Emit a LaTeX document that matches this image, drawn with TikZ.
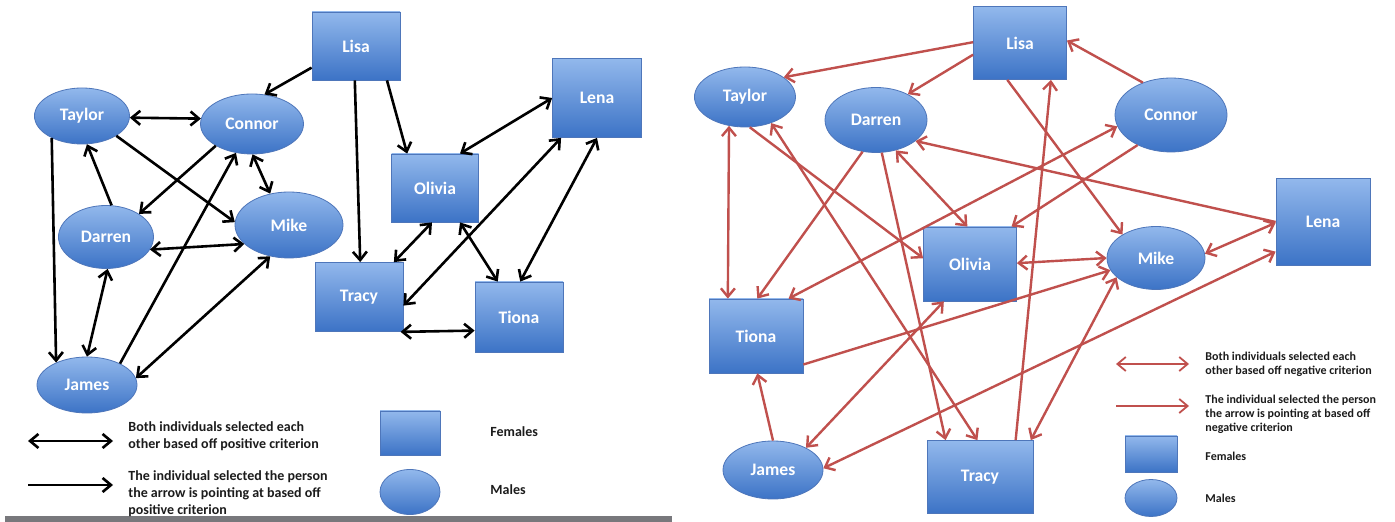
\documentclass[tikz,border=0pt]{standalone}
\usepackage{fontspec}
\setmainfont{Carlito}
\usetikzlibrary{arrows.meta,shapes.geometric}
\definecolor{nodetop}{RGB}{146,184,236}
\definecolor{nodebot}{RGB}{60,115,198}
\definecolor{nodeline}{RGB}{78,118,186}
\definecolor{redline}{RGB}{192,80,77}
\definecolor{legtext}{RGB}{28,28,28}
\definecolor{barcol}{RGB}{120,120,124}
\tikzset{
  sz/.style n args={2}{minimum width=#1*0.5pt, minimum height=#2*0.5pt},
  fem/.style={rectangle, draw=nodeline, line width=0.4pt, top color=nodetop, bottom color=nodebot,
    text=white, font=\bfseries\fontsize{8.8}{10}\selectfont, inner sep=0pt},
  mal/.style={fem, ellipse},
  tipb/.tip={Straight Barb[length=4.2pt,width=7pt]},
  blk/.style={draw=black, line width=1.3pt, -tipb},
  blkd/.style={draw=black, line width=1.3pt, tipb-tipb},
  rd/.style={draw=redline, line width=1.2pt, -tipb},
  rdd/.style={draw=redline, line width=1.2pt, tipb-tipb},
  legl/.style={anchor=west, align=left, text=legtext, inner sep=0pt,
    font=\bfseries\fontsize{7}{8.6}\selectfont},
  legr/.style={anchor=west, align=left, text=legtext, inner sep=0pt,
    font=\bfseries\fontsize{6}{6.9}\selectfont},
}
\begin{document}
\begin{tikzpicture}[x=0.5pt,y=-0.5pt]
\useasboundingbox (0,0) rectangle (1395,522);
\fill[white] (0,0) rectangle (1395,522);
\fill[barcol] (5,516) rectangle (672,522);

% ---------------- left diagram ----------------
\node[fem, sz={88}{68}] (LLisa)   at (356,46)  {Lisa};
\node[mal, sz={95}{56}] (LTaylor) at (82,116)  {Taylor};
\node[mal, sz={103}{60}](LConnor) at (252,124) {Connor};
\node[mal, sz={108}{66}](LMike)   at (289,225) {Mike};
\node[mal, sz={95}{63}] (LDarren) at (106,237) {Darren};
\node[mal, sz={100}{56}](LJames)  at (87,385)  {James};
\node[fem, sz={87}{68}] (LOlivia) at (435,188) {Olivia};
\node[fem, sz={89}{79}] (LLena)   at (597,98)  {Lena};
\node[fem, sz={88}{69}] (LTracy)  at (359,297) {Tracy};
\node[fem, sz={88}{70}] (LTiona)  at (519,317) {Tiona};

\draw[blk]  (LLisa.206.6)   -- (LConnor.67.4);
\draw[blkd] (LTaylor.-2)    -- (LConnor.174);
\draw[blk]  (LTaylor.330)   -- (LMike.177);
\draw[blk]  (LConnor.211.6) -- (LDarren.35.3);
\draw[blk]  (LDarren.80)    -- (LTaylor.280.6);
\draw[blkd] (LConnor.271.7) -- (LMike.121);
\draw[blkd] (LDarren.344.6) -- (LMike.203);
\draw[blk]  (LJames.33.3)   -- (LConnor.241.4);
\draw[blk]  (LTaylor.216.9) -- (LJames.144.3);
\draw[blkd] (LDarren.273)   -- (LJames.90);
\draw[blkd] (LJames.8)      -- (LMike.239);
\draw[blk]  (LLisa.312.7)   -- (LOlivia.129.8);
\draw[blk]  (LLisa.268.6)   -- (LTracy.88.5);
\draw[blkd] (LOlivia.54.5)  -- (LLena.180);
\draw[blkd] (LTracy.349.7)  -- (LLena.228.1);
\draw[blkd] (LTiona.88.4)   -- (LLena.270);
\draw[blkd] (LOlivia.265)   -- (LTracy.45.8);
\draw[blkd] (LOlivia.306.3) -- (LTiona.121);
\draw[blkd] (LTracy.320.2)  -- (LTiona.197);

% left legend
\coordinate (la1) at (28,441);  \coordinate (la2) at (113,441);
\coordinate (lb1) at (28,485);  \coordinate (lb2) at (113,485);
\draw[blkd] (la1) -- (la2);
\draw[blk]  (lb1) -- (lb2);
\node[legl] (lt1) at (128,436.5) {Both individuals selected each\\other based off positive criterion};
\node[legl] (lt2) at (128,493.5) {The individual selected the person\\the arrow is pointing at based off\\positive criterion};
\node[fem, sz={60}{44}] (lfem) at (410,433) {};
\node[mal, sz={60}{45}] (lmal) at (410,492) {};
\node[legl] (lt3) at (490,432) {Females};
\node[legl] (lt4) at (490,490) {Males};

% ---------------- right diagram ----------------
\node[fem, sz={93}{73}] (RLisa)   at (1020,43)  {Lisa};
\node[mal, sz={101}{60}](RTaylor) at (745,97)   {Taylor};
\node[mal, sz={102}{65}](RDarren) at (876,120)  {Darren};
\node[mal, sz={112}{74}](RConnor) at (1171,115) {Connor};
\node[fem, sz={94}{87}] (RLena)   at (1323,222) {Lena};
\node[mal, sz={98}{63}] (RMike)   at (1156,258) {Mike};
\node[fem, sz={93}{74}] (ROlivia) at (970,264)  {Olivia};
\node[fem, sz={94}{74}] (RTiona)  at (756,336)  {Tiona};
\node[mal, sz={100}{58}](RJames)  at (773,470)  {James};
\node[fem, sz={106}{73}](RTracy)  at (980,477)  {Tracy};

\draw[rd]  (RLisa.179)     -- (RTaylor.27.8);
\draw[rd]  (RLisa.194)     -- (RDarren.39);
\draw[rd]  (RLisa.251.6)   -- (RMike.145);
\draw[rd]  (RTracy.46.6)   -- (RLisa.310.9);
\draw[rd]  (RConnor.131.5) -- (RLisa.3.3);
\draw[rdd] (RTaylor.241.4) -- (RTiona.127.3);
\draw[rd]  (RTaylor.279.5) -- (ROlivia.173);
\draw[rdd] (RTaylor.315)   -- (RTracy.94.4);
\draw[rd]  (RDarren.280.6) -- (RTracy.133.5);
\draw[rd]  (RDarren.247.9) -- (RTiona.88.5);
\draw[rdd] (RDarren.303.7) -- (ROlivia.94.4);
\draw[rd]  (RLena.180)     -- (RDarren.332.9);
\draw[rdd] (RConnor.192)   -- (RTiona.49.9);
\draw[rd]  (RConnor.222.3) -- (ROlivia.42.2);
\draw[rd]  (RTiona.329.4)  -- (RMike.195.4);
\draw[rdd] (ROlivia.1.2)   -- (RMike.180);
\draw[rdd] (RJames.34)     -- (ROlivia.235.3);
\draw[rdd] (RJames.2.3)    -- (RLena.212);
\draw[rdd] (RTracy.36.3)   -- (RMike.206.6);
\draw[rdd] (RMike.5.3)     -- (RLena.181);
\draw[rd]  (RJames.90)     -- (RTiona.272.8);

% right legend
\coordinate (ra1) at (1116,364); \coordinate (ra2) at (1189,364);
\coordinate (rb1) at (1116,406); \coordinate (rb2) at (1189,406);
\draw[rdd, line width=0.9pt] (ra1) -- (ra2);
\draw[rd, line width=0.9pt]  (rb1) -- (rb2);
\node[legr] (rt1) at (1205,364.5) {Both individuals selected each\\other based off negative criterion};
\node[legr] (rt2) at (1205,414.5) {The individual selected the person\\the arrow is pointing at based off\\negative criterion};
\node[fem, sz={52}{36}] (rfem) at (1151,454) {};
\node[mal, sz={52}{37}] (rmal) at (1151,498) {};
\node[legr] (rt3) at (1205,456) {Females};
\node[legr] (rt4) at (1205,498) {Males};
\end{tikzpicture}
\end{document}
